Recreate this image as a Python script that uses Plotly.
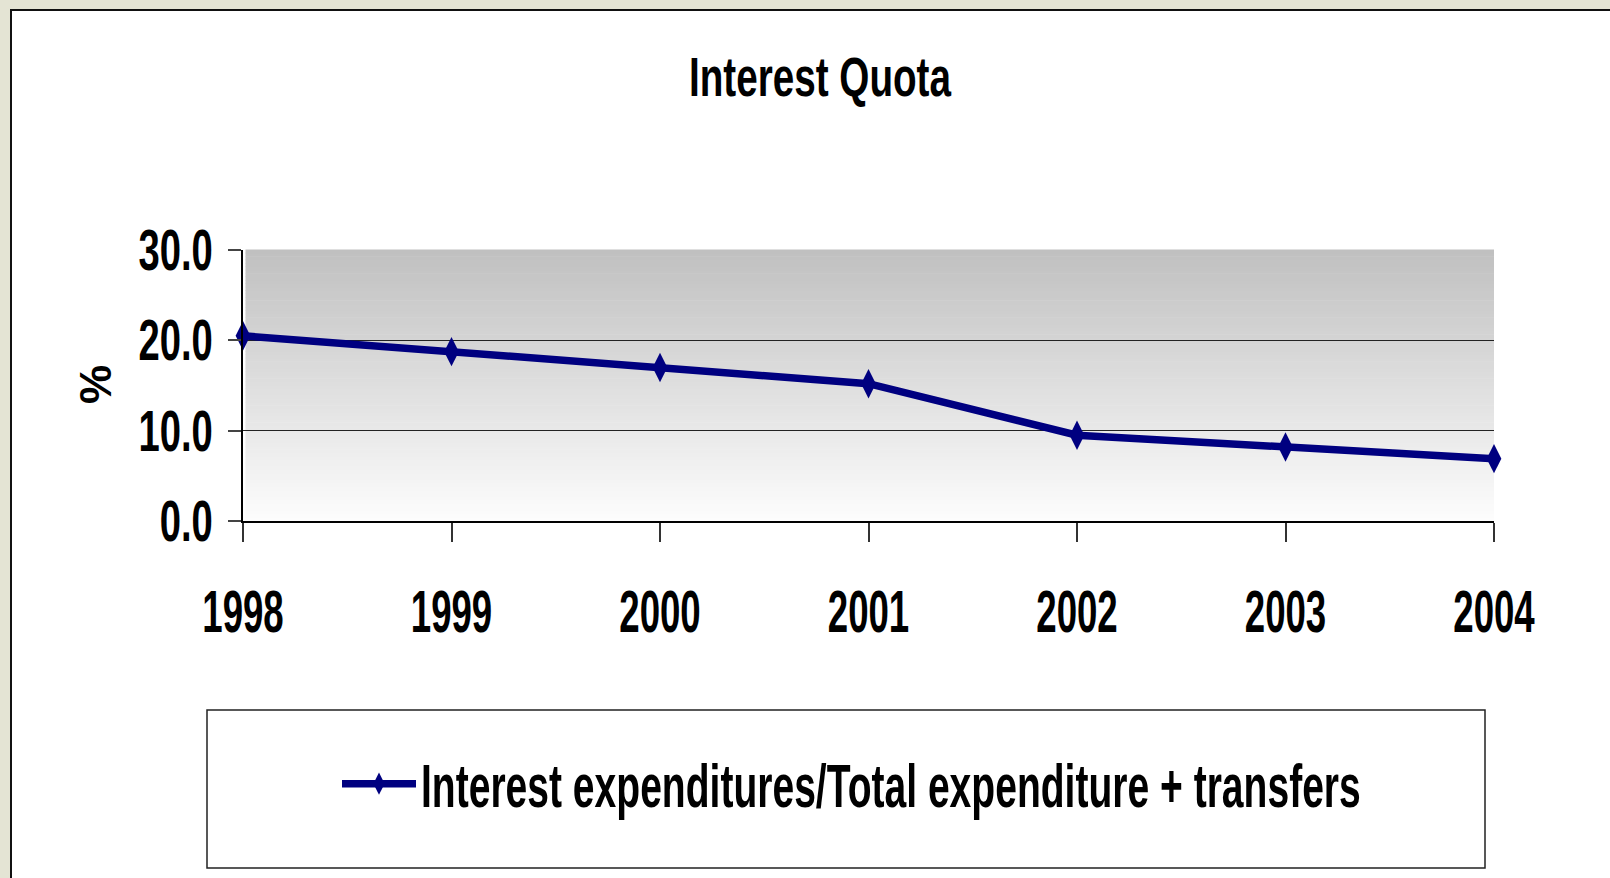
import plotly.graph_objects as go

years = ["1998", "1999", "2000", "2001", "2002", "2003", "2004"]
quota = [20.5, 18.75, 17.0, 15.2, 9.5, 8.2, 6.9]
series_name = "Interest expenditures/Total expenditure + transfers"
title_text = "Interest Quota"
y_title = "%"

W, H = 1610, 878
L, R, T, B = 243, 1610 - 1494, 250, 878 - 521
pw, ph = W - L - R, H - T - B

def px(x):
    return (x - L) / pw

def py(y):
    return (H - B - y) / ph

FONT = "Liberation Sans, Arial, sans-serif"

fig = go.Figure()
fig.add_trace(go.Scatter(
    x=years, y=quota, mode="lines+markers", name=series_name,
    line=dict(color="#000080", width=7.5),
    marker=dict(symbol="diamond-tall", size=21, color="#000080"),
    cliponaxis=False,
))

shapes = []
shapes.append(dict(type="rect", xref="paper", yref="paper",
                   x0=px(11), x1=px(1700), y0=py(10), y1=py(1000),
                   fillcolor="white", line=dict(color="#111", width=2), layer="below"))
n = 80
for i in range(n):
    c = int(round(0xfd - (0xfd - 0xc0) * (i + 0.5) / n))
    shapes.append(dict(type="rect", xref="x domain", yref="y domain",
                       x0=0.002, x1=1, y0=i / n, y1=(i + 1) / n + 0.002,
                       fillcolor=f"rgb({c},{c},{c})", line=dict(width=0), layer="below"))
shapes.append(dict(type="rect", xref="paper", yref="paper",
                   x0=px(207), x1=px(1485), y0=py(710), y1=py(868),
                   fillcolor="white", line=dict(color="#222", width=1.5), layer="below"))

fig.update_layout(
    width=W, height=H,
    margin=dict(l=L, r=R, t=T, b=B, autoexpand=False),
    paper_bgcolor="#e4e4d4",
    plot_bgcolor="rgba(0,0,0,0)",
    font=dict(family=FONT, color="black", weight="bold"),
    title=dict(text=title_text, x=820 / W, xanchor="center",
               y=1 - 76 / H, yanchor="middle",
               font=dict(size=56, family=FONT, weight="bold")),
    shapes=shapes,
    showlegend=True,
    legend=dict(xref="container", yref="container",
                x=337 / W, y=1 - 784 / H, xanchor="left", yanchor="middle",
                bgcolor="rgba(0,0,0,0)", borderwidth=0,
                font=dict(size=61, family=FONT, weight="bold"), itemwidth=74),
    annotations=[dict(text=y_title, xref="paper", yref="paper",
                      x=px(95), y=py(385), showarrow=False, textangle=-90,
                      xanchor="center", yanchor="middle",
                      font=dict(size=44, family=FONT, weight="bold"))],
    xaxis=dict(type="category", range=[0, 6], showgrid=False, tickangle=0,
               showline=True, linecolor="black", linewidth=1.5,
               ticks="outside", ticklen=19, tickcolor="#333", tickwidth=1.5,
               tickfont=dict(size=60, family=FONT, weight="bold"),
               ticklabelstandoff=18, zeroline=False),
    yaxis=dict(range=[0, 30], dtick=10, tickformat=".1f",
               showgrid=True, gridcolor="#222", gridwidth=1,
               showline=True, linecolor="black", linewidth=1.5,
               ticks="outside", ticklen=13, tickcolor="#444", tickwidth=1.5,
               tickfont=dict(size=57, family=FONT, weight="bold"),
               ticklabelstandoff=4, zeroline=False),
)

post = """
document.body.style.margin = '0';
document.body.style.overflow = 'hidden';
var gd = document.getElementById('{plot_id}');
function squeeze(){
  var groups = [['.gtitle', 0.69], ['.xtick text', 0.61], ['.ytick text', 0.67], ['.legendtext', 0.64]];
  groups.forEach(function(g){
    gd.querySelectorAll(g[0]).forEach(function(t){
      t.removeAttribute('textLength'); t.removeAttribute('lengthAdjust');
      var len = t.getComputedTextLength();
      t.setAttribute('textLength', len * g[1]);
      t.setAttribute('lengthAdjust', 'spacingAndGlyphs');
    });
  });
}
squeeze();
gd.on('plotly_afterplot', squeeze);
"""

fig.write_html("out.html", post_script=post, config={"displayModeBar": False})
